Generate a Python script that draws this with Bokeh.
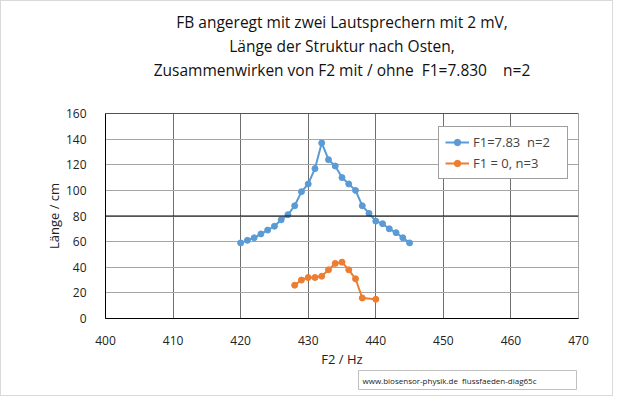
from bokeh.plotting import figure
from bokeh.models import ColumnDataSource, FixedTicker, Span, Legend, Title
from bokeh.embed import file_html
from bokeh.resources import INLINE

# F2 frequency (Hz) and structure length (cm)
f2_with_f1 = [420, 421, 422, 423, 424, 425, 426, 427, 428, 429, 430, 431, 432,
              433, 434, 435, 436, 437, 438, 439, 440, 441, 442, 443, 444, 445]
len_with_f1 = [59, 61, 63, 66, 69, 72, 77, 81, 88, 99, 105, 117, 137,
               124, 119, 110, 105, 100, 88, 82, 76, 74, 70, 67, 63, 59]

f2_without_f1 = [428, 429, 430, 431, 432, 433, 434, 435, 436, 437, 438, 440]
len_without_f1 = [26, 30, 32, 32, 33, 38, 43, 44, 38, 31, 16, 15]

x_ticks = [400, 410, 420, 430, 440, 450, 460, 470]
y_ticks = [0, 20, 40, 60, 80, 100, 120, 140, 160]

title_lines = ["FB angeregt mit zwei Lautsprechern mit 2 mV,",
               "Länge der Struktur nach Osten,",
               "Zusammenwirken von F2 mit / ohne\u00a0 F1=7.830\u00a0\u00a0\u00a0 n=2"]
footer_text = "www.biosensor-physik.de\u00a0 flussfaeden-diag65c"

FONT = "Open Sans"
BLUE = "#5b9bd5"
ORANGE = "#ed7d31"

p = figure(width=613, height=396, output_backend="svg", toolbar_location=None,
           x_range=(x_ticks[0], x_ticks[-1]), y_range=(y_ticks[0], y_ticks[-1]),
           min_border_left=104, min_border_right=36, min_border_top=112,
           min_border_bottom=79, x_axis_label="F2 / Hz", y_axis_label="Länge / cm")
p.styles = {"border": "1px solid #d9d9d9"}
p.outline_line_color = "#a6a6a6"
p.title.visible = False

# grid
p.xaxis.ticker = FixedTicker(ticks=x_ticks)
p.yaxis.ticker = FixedTicker(ticks=y_ticks)
p.xgrid.grid_line_color = "#6f6f6f"
p.ygrid.grid_line_color = "#a6a6a6"
p.add_layout(Span(location=80, dimension="width", line_color="black", line_width=1.2))
p.add_layout(Span(location=y_ticks[-1], dimension="width", line_color="black", line_width=1))

# axes
for ax in (p.xaxis, p.yaxis):
    ax.major_tick_line_color = None
    ax.minor_tick_line_color = None
    ax.axis_line_color = "black"
    ax.major_label_text_font = FONT
    ax.major_label_text_font_size = "12px"
    ax.major_label_text_color = "#222222"
    ax.axis_label_text_font = FONT
    ax.axis_label_text_font_size = "13px"
    ax.axis_label_text_font_style = "normal"
    ax.axis_label_text_color = "#222222"
p.yaxis.major_label_standoff = 13
p.xaxis.major_label_standoff = 11
p.xaxis.axis_label_standoff = 2
p.yaxis.axis_label_standoff = 0

src1 = ColumnDataSource(data=dict(x=f2_with_f1, y=len_with_f1))
src2 = ColumnDataSource(data=dict(x=f2_without_f1, y=len_without_f1))

l1 = p.line("x", "y", source=src1, line_color=BLUE, line_width=2)
s1 = p.scatter("x", "y", source=src1, size=6, color=BLUE)
l2 = p.line("x", "y", source=src2, line_color=ORANGE, line_width=2)
s2 = p.scatter("x", "y", source=src2, size=6, color=ORANGE)

legend = Legend(items=[("F1=7.83  n=2", [l1, s1]), ("F1 = 0, n=3", [l2, s2])],
                location=(333, 139), label_text_font=FONT, label_text_font_size="13px",
                glyph_width=24, glyph_height=16, label_height=16, label_standoff=4,
                label_width=88, spacing=3, padding=6, margin=0,
                border_line_color="#404040", background_fill_alpha=1)
p.add_layout(legend)

# blank spacer between the plot and the title block
p.add_layout(Title(text="\u00a0", text_font=FONT, text_font_size="15.5px", standoff=9), "above")
# title, three centred lines over the whole chart; first added sits nearest the plot
for line in reversed(title_lines):
    p.add_layout(Title(text=line, align="center", offset=-30, text_font=FONT,
                       text_font_size="15.5px", text_font_style="normal",
                       text_color="#111111", standoff=0), "above")

# source note in a box under the x axis
p.add_layout(Title(text=footer_text, align="left", offset=253, text_font=FONT,
                   text_font_size="8px", text_font_style="normal", text_color="#222222",
                   border_line_color="#bfbfbf", background_fill_color="white",
                   padding=dict(left=4, right=40, top=4, bottom=4), standoff=-4), "below")

open("out.html", "w").write(file_html(p, INLINE))
